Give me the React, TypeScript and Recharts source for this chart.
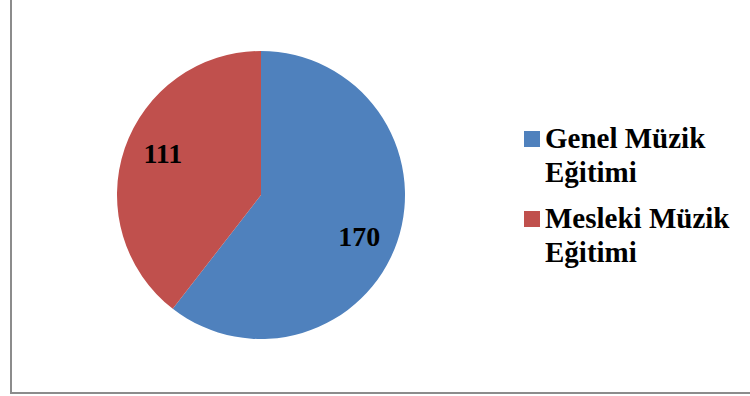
import { PieChart, Pie, Cell, Legend } from 'recharts';

const categories = ['Genel Müzik Eğitimi', 'Mesleki Müzik Eğitimi'];
const counts = [170, 111];
const COLORS = ['#4F81BD', '#C0504D'];

const data = categories.map((name, i) => ({ name, value: counts[i] }));

const FONT = '"Liberation Serif", "Times New Roman", Times, serif';
const RADIAN = Math.PI / 180;

// eslint-disable-next-line @typescript-eslint/no-explicit-any
const renderLabel = (props: any) => {
  const { cx, cy, midAngle, outerRadius, value } = props;
  const r = outerRadius * 0.74;
  const a = (midAngle - 4) * RADIAN;
  const x = cx + r * Math.cos(-a);
  const y = cy + r * Math.sin(-a);
  return (
    <text
      x={x}
      y={y}
      fill="#000"
      textAnchor="middle"
      dominantBaseline="central"
      fontFamily={FONT}
      fontWeight="bold"
      fontSize={28}
    >
      {value}
    </text>
  );
};

// eslint-disable-next-line @typescript-eslint/no-explicit-any
const renderLegend = (props: any) => {
  const { payload } = props;
  return (
    <div style={{ fontFamily: FONT, fontWeight: 'bold', fontSize: 29, lineHeight: '34px', color: '#000' }}>
      {payload.map((entry: any, i: number) => (
        <div key={i} style={{ display: 'flex', alignItems: 'flex-start', marginBottom: 12 }}>
          <div
            style={{
              width: 16,
              height: 16,
              marginTop: 10,
              marginRight: 5,
              background: entry.color,
              flexShrink: 0,
            }}
          />
          <div style={{ width: 200 }}>{entry.value}</div>
        </div>
      ))}
    </div>
  );
};

export default function App() {
  return (
    <div
      style={{
        position: 'fixed',
        top: 0,
        left: 0,
        width: 750,
        height: 396,
        overflow: 'hidden',
        background: '#fff',
      }}
    >
      <div
        style={{
          position: 'absolute',
          left: 10,
          top: -10,
          width: 760,
          height: 404,
          boxSizing: 'border-box',
          border: '2px solid #8c8c8c',
        }}
      />
      <div style={{ position: 'absolute', left: 0, top: 0 }}>
        <PieChart width={750} height={396} margin={{ top: 0, right: 0, bottom: 0, left: 0 }}>
          <Pie
            data={data}
            dataKey="value"
            nameKey="name"
            cx={261}
            cy={195}
            outerRadius={144}
            startAngle={90}
            endAngle={-270}
            stroke="none"
            labelLine={false}
            label={renderLabel}
            isAnimationActive={false}
          >
            {data.map((_, i) => (
              <Cell key={i} fill={COLORS[i]} />
            ))}
          </Pie>
          <Legend
            layout="vertical"
            align="center"
            verticalAlign="middle"
            content={renderLegend}
            wrapperStyle={{ position: 'absolute', left: 524, top: 121, width: 226, margin: 0 }}
          />
        </PieChart>
      </div>
    </div>
  );
}
